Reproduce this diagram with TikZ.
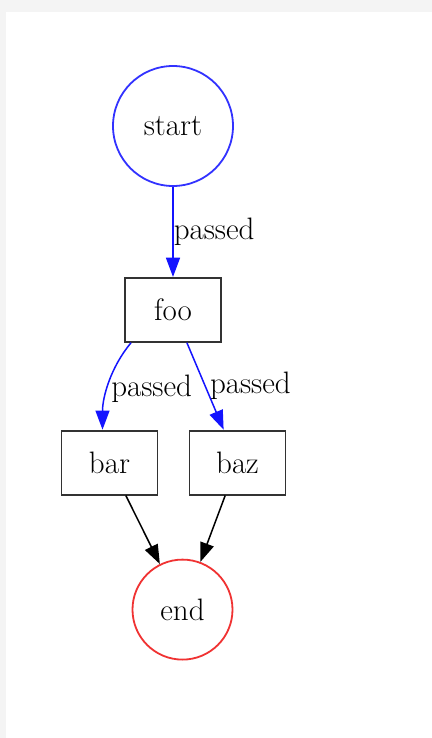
\documentclass[tikz,border=0pt]{standalone}
\definecolor{PageGray}{RGB}{244, 244, 244}
\definecolor{EdgeBlue}{RGB}{20, 20, 255}
\definecolor{StartBlue}{RGB}{50, 50, 255}
\definecolor{EndRed}{RGB}{240, 50, 50}
\definecolor{BoxGray}{RGB}{50, 50, 50}
\usepackage{tikz}
\usetikzlibrary{arrows.meta, positioning, calc}

\begin{document}
\begin{tikzpicture}[
        x=1pt, y=1pt,
        font=\fontsize{15.5}{18}\selectfont,
        state/.style={circle, draw, line width=0.9pt, inner sep=0pt},
        block/.style={rectangle, draw=BoxGray, line width=0.9pt, minimum width=48pt, minimum height=32pt},
        line/.style={draw, line width=0.75pt, -{Triangle[length=9.6pt, width=7pt]}},
        lbl/.style={inner sep=0pt, text=black}
    ]
        % page and canvas
        \fill[PageGray] (0,0) rectangle (216,-369);
        \fill[white] (3,-6) rectangle (216,-369);
        \useasboundingbox (0,0) rectangle (216,-369);

        \node [state, draw=StartBlue, minimum size=60pt] (start) at (86.5,-63) {start};
        \node [block, below=45pt of start] (foo) {foo};
        \node [block, below=43.5pt of foo, xshift=-31.75pt] (bar) {bar};
        \node [block, below=43.5pt of foo, xshift=32.25pt] (baz) {baz};
        \node [state, draw=EndRed, minimum size=50pt] (end) at ($(bar)!0.5!(baz) + (4.5,-73.5)$) {end};

        \path [line, EdgeBlue] (start) -- node[lbl, right] {passed} (foo);
        \path [line, EdgeBlue] ([xshift=3.5pt]foo.south west) to[out=-130, in=90, looseness=0.9]
            node[lbl, right, pos=0.56, xshift=1.5pt] {passed} ([xshift=-3.5pt]bar.north);
        \path [line, EdgeBlue] (foo) -- node[lbl, right, pos=0.5, xshift=2pt] {passed} (baz);
        \path [line, black] (bar) -- (end);
        \path [line, black] (baz) -- (end);
    \end{tikzpicture}
\end{document}
